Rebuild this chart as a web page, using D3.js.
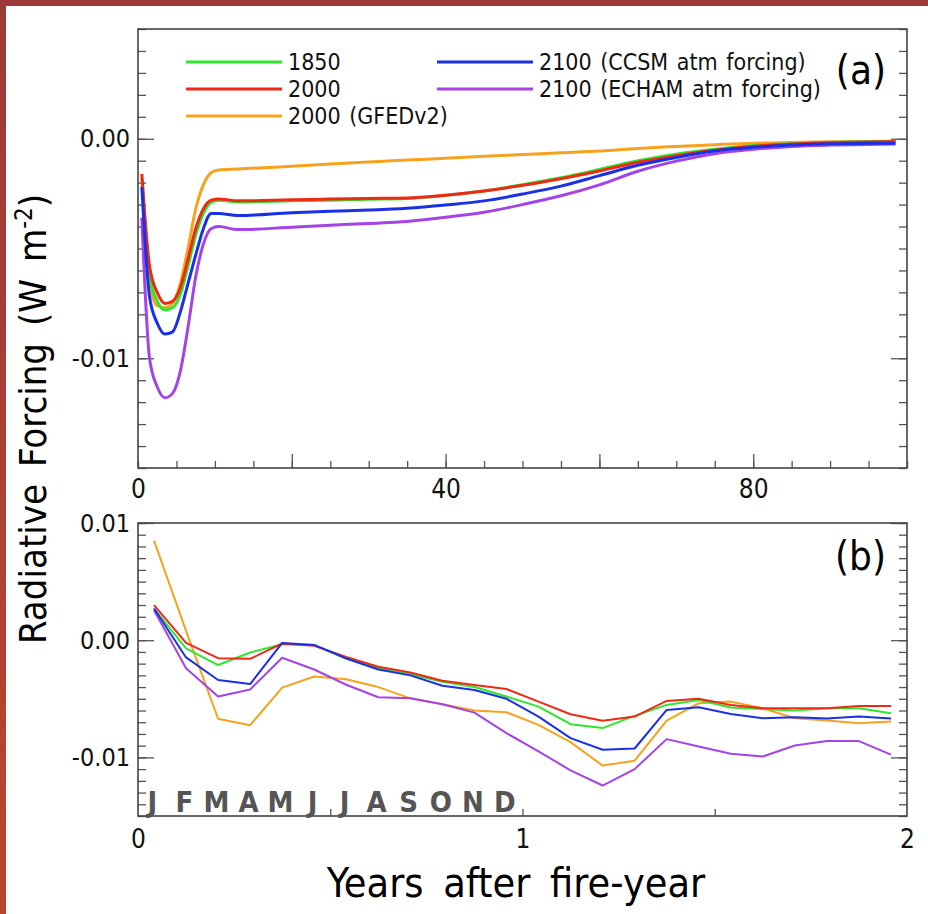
<!DOCTYPE html>
<html>
<head>
<meta charset="utf-8">
<script src="https://cdn.jsdelivr.net/npm/d3@7"></script>
<style>
  html, body { margin: 0; padding: 0; background: #fff; }
  svg { display: block; }
</style>
</head>
<body>
<svg id="chart"></svg>
<script>
// panel (a): years after fire, radiative forcing W m-2
const yearsA = [0.5, 1.5, 2.5, 3.5, 4.5, 5.5, 6.5, 7.5, 8.5, 9.5, 10.5, 13, 20, 25, 30, 35, 40, 45, 50, 55, 60, 65, 70, 75, 80, 85, 90, 95, 98.5]
const rf1850A = [-0.0018, -0.0062, -0.0074, -0.0078, -0.0077, -0.0071, -0.0058, -0.0044, -0.0034, -0.0029, -0.0028, -0.00288, -0.00283, -0.0028, -0.00276, -0.00272, -0.00258, -0.00238, -0.0021, -0.00178, -0.0014, -0.001, -0.0007, -0.00048, -0.00032, -0.00023, -0.00017, -0.00014, -0.00012]
const rf2000A = [-0.0016, -0.0058, -0.0070, -0.0075, -0.0074, -0.0068, -0.0055, -0.0041, -0.0032, -0.0028, -0.00274, -0.00283, -0.00278, -0.00275, -0.00272, -0.0027, -0.00257, -0.00238, -0.00212, -0.00182, -0.00147, -0.00107, -0.00077, -0.00052, -0.00034, -0.00024, -0.00018, -0.00015, -0.00013]
const rfGfedA = [-0.0036, -0.0066, -0.0076, -0.0077, -0.0075, -0.0066, -0.0050, -0.0032, -0.0021, -0.00155, -0.00142, -0.00138, -0.00125, -0.00115, -0.00106, -0.00097, -0.00089, -0.0008, -0.00072, -0.00064, -0.00056, -0.00044, -0.00035, -0.00027, -0.0002, -0.00017, -0.00014, -0.00012, -0.00011]
const rfCcsmA = [-0.0022, -0.0072, -0.0084, -0.0089, -0.0088, -0.0079, -0.0066, -0.0053, -0.0041, -0.0034, -0.0034, -0.0035, -0.00337, -0.0033, -0.00325, -0.00317, -0.00302, -0.00283, -0.00252, -0.00216, -0.00168, -0.00121, -0.00085, -0.00056, -0.00039, -0.00029, -0.00023, -0.00021, -0.0002]
const rfEchamA = [-0.0036, -0.0100, -0.0113, -0.0118, -0.0116, -0.0106, -0.0086, -0.0063, -0.0048, -0.0041, -0.0040, -0.00414, -0.00403, -0.00394, -0.00386, -0.00377, -0.00358, -0.00335, -0.003, -0.0026, -0.0021, -0.00148, -0.00102, -0.00068, -0.00048, -0.00035, -0.00029, -0.00026, -0.00024]

// panel (b): monthly values for the first two years
const monthLetters = ['J', 'F', 'M', 'A', 'M', 'J', 'J', 'A', 'S', 'O', 'N', 'D']
const rf1850B = [0.0027, -0.0007, -0.00212, -0.00105, -0.00034, -0.00042, -0.00156, -0.0024, -0.0029, -0.00354, -0.004, -0.0048, -0.00567, -0.00717, -0.0075, -0.00646, -0.00552, -0.0051, -0.00575, -0.00586, -0.006, -0.00581, -0.00581, -0.00623]
const rf2000B = [0.0030, -0.00023, -0.00153, -0.00159, -0.00028, -0.00048, -0.00142, -0.00227, -0.00275, -0.00346, -0.00382, -0.00416, -0.00524, -0.00632, -0.00688, -0.00652, -0.00518, -0.00499, -0.00552, -0.00581, -0.00581, -0.00581, -0.00561, -0.00561]
const rfGfedB = [0.0085, 0.0008, -0.0067, -0.00725, -0.00405, -0.0031, -0.00334, -0.004, -0.00496, -0.00547, -0.006, -0.00615, -0.00722, -0.0087, -0.0107, -0.01028, -0.00686, -0.00538, -0.00524, -0.00581, -0.00666, -0.00686, -0.00708, -0.00694]
const rfCcsmB = [0.0027, -0.00147, -0.0034, -0.00374, -0.00023, -0.0004, -0.00156, -0.0025, -0.003, -0.00388, -0.00425, -0.005, -0.00652, -0.00836, -0.00935, -0.00924, -0.00595, -0.00572, -0.00629, -0.00666, -0.00657, -0.00669, -0.00652, -0.00669]
const rfEchamB = [0.00255, -0.0024, -0.0048, -0.0042, -0.0015, -0.0025, -0.0038, -0.00487, -0.00496, -0.00547, -0.00618, -0.00793, -0.00949, -0.0111, -0.0124, -0.011, -0.00844, -0.00907, -0.00969, -0.00992, -0.00898, -0.00861, -0.00861, -0.00977]

const seriesNames = ['1850', '2000', '2000 (GFEDv2)', '2100 (CCSM atm forcing)', '2100 (ECHAM atm forcing)']
const seriesA = [rf1850A, rf2000A, rfGfedA, rfCcsmA, rfEchamA]
const seriesB = [rf1850B, rf2000B, rfGfedB, rfCcsmB, rfEchamB]
const colors = ['#2ee62e', '#ee2a16', '#f6a21e', '#1a30e6', '#a443e6']
const drawOrder = [2, 0, 1, 4, 3]

const width = 928
const height = 914
const font = '"DejaVu Sans Condensed", "DejaVu Sans", sans-serif'

const svg = d3.select('#chart')
  .attr('width', width)
  .attr('height', height)
  .style('font-family', font)

// brown frame round the picture
const grad = svg.append('defs').append('linearGradient')
  .attr('id', 'edge').attr('x1', 0).attr('y1', 0).attr('x2', 0).attr('y2', 1)
grad.append('stop').attr('offset', '0%').attr('stop-color', '#9c3a3a')
grad.append('stop').attr('offset', '100%').attr('stop-color', '#bb462c')
svg.append('rect').attr('x', 0).attr('y', 0).attr('width', width).attr('height', 6).attr('fill', '#9c3a3a')
svg.append('rect').attr('x', 0).attr('y', 0).attr('width', 6).attr('height', height).attr('fill', 'url(#edge)')

const left = 138
const right = 907

// ---------- panel (a)
const xa = d3.scaleLinear().domain([0, 100]).range([left, right])
const ya = d3.scaleLinear().domain([-0.015, 0.005]).range([468, 29])

// ---------- panel (b)
const xb = d3.scaleLinear().domain([0, 2]).range([left, right])
const yb = d3.scaleLinear().domain([-0.015, 0.01]).range([816, 523])

function ticksGroup (axis, tx, ty) {
  const g = svg.append('g')
    .attr('transform', `translate(${tx},${ty})`)
    .call(axis)
  g.select('.domain').remove()
  g.selectAll('line').attr('stroke', '#555').attr('stroke-width', 1.3)
  g.selectAll('text').attr('font-family', font).attr('fill', '#111')
  return g
}

function frameAxes (x, y, minorY, majorY, minorX, majorX, xLabels, yLabels, xPad) {
  const [x0, x1] = x.range()
  const [y0, y1] = y.range()
  const fmt = (d) => d3.format('.2f')(d).replace('−', '-')

  // left, minor + major
  ticksGroup(d3.axisLeft(y).tickValues(minorY).tickSize(-8).tickFormat(''), x0, 0)
  ticksGroup(d3.axisLeft(y).tickValues(majorY).tickSize(-16).tickFormat(''), x0, 0)
  ticksGroup(d3.axisLeft(y).tickValues(yLabels).tickSize(0).tickPadding(8).tickFormat(fmt), x0, 0)
    .attr('font-size', 25)
  // right
  ticksGroup(d3.axisRight(y).tickValues(minorY).tickSize(-8).tickFormat(''), x1, 0)
  ticksGroup(d3.axisRight(y).tickValues(majorY).tickSize(-16).tickFormat(''), x1, 0)
  // bottom
  ticksGroup(d3.axisBottom(x).tickValues(minorX).tickSize(-7).tickFormat(''), 0, y0)
  ticksGroup(d3.axisBottom(x).tickValues(majorX).tickSize(-14).tickFormat(''), 0, y0)
  ticksGroup(d3.axisBottom(x).tickValues(xLabels).tickSize(0).tickPadding(xPad).tickFormat(d3.format('d')), 0, y0)
    .attr('font-size', 26)

  svg.append('rect')
    .attr('x', x0).attr('y', y1)
    .attr('width', x1 - x0).attr('height', y0 - y1)
    .attr('fill', 'none').attr('stroke', '#444').attr('stroke-width', 1.6)
}

const range = (a, b, s) => d3.range(a, b + s / 2, s)

frameAxes(xa, ya,
  range(-0.015, 0.005, 0.001), [-0.01, 0],
  range(0, 100, 5), [20, 40, 60, 80],
  [0, 40, 80], [-0.01, 0], 12)

frameAxes(xb, yb,
  range(-0.015, 0.01, 0.001), [-0.01, 0, 0.01],
  [0.5, 1, 1.5], [],
  [0, 1, 2], [-0.01, 0, 0.01], 14)

const lineA = d3.line()
  .x((d, i) => xa(yearsA[i]))
  .y((d) => ya(d))
  .curve(d3.curveMonotoneX)

svg.append('g')
  .selectAll('path')
  .data(drawOrder)
  .join('path')
  .attr('d', (k) => lineA(seriesA[k]))
  .attr('fill', 'none')
  .attr('stroke', (k) => colors[k])
  .attr('stroke-width', 3)
  .attr('stroke-linejoin', 'round')

const lineB = d3.line()
  .x((d, i) => xb((i + 0.5) / 12))
  .y((d) => yb(d))

svg.append('g')
  .selectAll('path')
  .data(drawOrder)
  .join('path')
  .attr('d', (k) => lineB(seriesB[k]))
  .attr('fill', 'none')
  .attr('stroke', (k) => colors[k])
  .attr('stroke-width', 2)
  .attr('stroke-linejoin', 'round')

// month letters along the bottom of panel (b)
svg.append('g')
  .attr('font-size', 29)
  .attr('font-weight', 'bold')
  .attr('fill', '#555')
  .attr('text-anchor', 'middle')
  .selectAll('text')
  .data(monthLetters)
  .join('text')
  .attr('x', (d, i) => xb((i + 0.45) / 12))
  .attr('y', 812)
  .text((d) => d)

// legend
const legendPos = [[186, 62], [186, 89], [186, 116], [437, 62], [437, 89]]
const legend = svg.append('g').attr('font-size', 23).attr('fill', '#111')
legend.selectAll('line')
  .data(seriesNames)
  .join('line')
  .attr('x1', (d, i) => legendPos[i][0])
  .attr('x2', (d, i) => legendPos[i][0] + 96)
  .attr('y1', (d, i) => legendPos[i][1])
  .attr('y2', (d, i) => legendPos[i][1])
  .attr('stroke', (d, i) => colors[i])
  .attr('stroke-width', 3)
legend.selectAll('text')
  .data(seriesNames)
  .join('text')
  .attr('x', (d, i) => legendPos[i][0] + 102)
  .attr('y', (d, i) => legendPos[i][1])
  .attr('dy', '0.35em')
  .style('word-spacing', '2px')
  .text((d) => d)

// panel letters
svg.append('text').attr('x', 886).attr('y', 70).attr('dy', '0.35em')
  .attr('text-anchor', 'end').attr('font-size', 40).text('(a)')
svg.append('text').attr('x', 886).attr('y', 556).attr('dy', '0.35em')
  .attr('text-anchor', 'end').attr('font-size', 40).text('(b)')

// axis titles
svg.append('text')
  .attr('x', 516).attr('y', 897)
  .attr('text-anchor', 'middle')
  .attr('font-size', 41)
  .style('word-spacing', '8px')
  .text('Years after fire-year')

const ylab = svg.append('text')
  .attr('transform', 'translate(46,419) rotate(-90)')
  .attr('text-anchor', 'middle')
  .attr('font-size', 38)
  .style('word-spacing', '6px')
ylab.append('tspan').text('Radiative Forcing (W m')
ylab.append('tspan').attr('font-size', 24).attr('dy', -14).text('-2')
ylab.append('tspan').attr('dy', 14).text(')')
</script>
</body>
</html>
